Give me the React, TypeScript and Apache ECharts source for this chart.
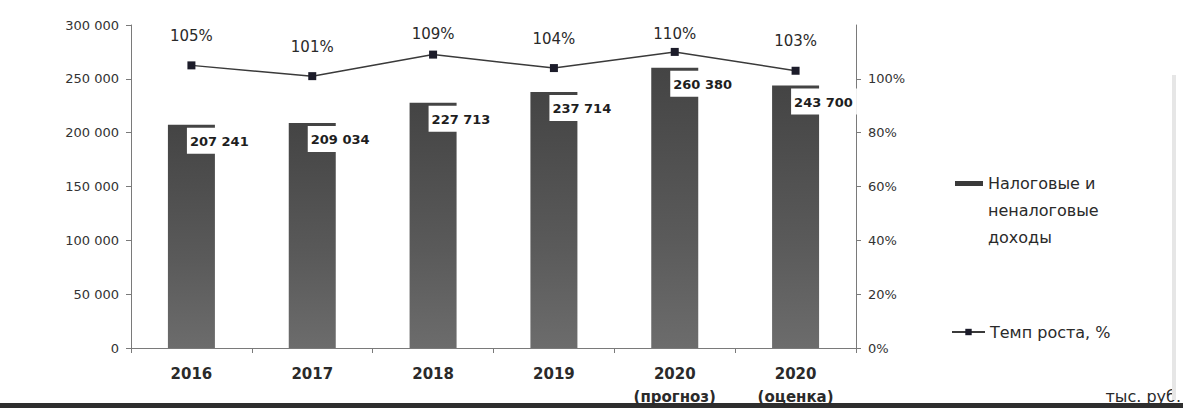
import React, { useEffect, useRef } from "react";
import * as echarts from "echarts";

const categories = ["2016", "2017", "2018", "2019", "2020\n(прогноз)", "2020\n(оценка)"];
const revenues = [207241, 209034, 227713, 237714, 260380, 243700];
const growthRates = [1.05, 1.01, 1.09, 1.04, 1.1, 1.03];
const leftMax = 300000;
const leftStep = 50000;
const rightMax = 1.2;
const rightStep = 0.2;
const barName = "Налоговые и\nненалоговые\nдоходы";
const lineName = "Темп роста, %";
const unitText = "тыс. руб.";

const FONT = "DejaVu Sans";

const thousands = (v: number) =>
  v === 0 ? "0" : String(Math.round(v)).replace(/\B(?=(\d{3})+(?!\d))/g, " ");
const pct = (v: number) => Math.round(v * 100) + "%";

export default function App() {
  const ref = useRef<HTMLDivElement>(null);
  useEffect(() => {
    if (!ref.current) return;
    const chart = echarts.init(ref.current, undefined, { renderer: "svg" });
    chart.setOption({
      animation: false,
      backgroundColor: "#ffffff",
      textStyle: { fontFamily: FONT },
      grid: { left: 131, right: 327, top: 25, bottom: 59, containLabel: false },
      legend: [
        {
          data: [barName],
          orient: "vertical",
          left: 955,
          top: 170,
          padding: 0,
          itemWidth: 28,
          itemHeight: 59,
          itemGap: 5,
          icon: "path://M0,0L28,0L28,5L0,5Z M0,59L28,59",
          itemStyle: { color: "#3a3a3a", borderWidth: 0 },
          textStyle: {
            fontFamily: FONT,
            fontSize: 16,
            color: "#2a2a2a",
            lineHeight: 27,
          },
        },
        {
          data: [lineName],
          orient: "vertical",
          left: 951,
          top: 322,
          padding: 0,
          itemWidth: 33,
          itemHeight: 8,
          textStyle: { fontFamily: FONT, fontSize: 16, color: "#2a2a2a", lineHeight: 20 },
        },
      ],
      xAxis: {
        type: "category",
        data: categories,
        boundaryGap: true,
        axisLine: { show: true, lineStyle: { color: "#7a7a7a", width: 1 } },
        axisTick: { show: true, alignWithLabel: false, inside: false, length: 5, lineStyle: { color: "#7a7a7a" } },
        axisLabel: {
          margin: 14,
          fontFamily: FONT,
          fontSize: 15,
          fontWeight: "bold",
          color: "#2a2a2a",
          lineHeight: 23,
          interval: 0,
        },
        splitLine: { show: false },
      },
      yAxis: [
        {
          type: "value",
          min: 0,
          max: leftMax,
          interval: leftStep,
          axisLine: { show: true, lineStyle: { color: "#7a7a7a", width: 1 } },
          axisTick: { show: true, length: 5, lineStyle: { color: "#7a7a7a" } },
          axisLabel: {
            margin: 12,
            fontFamily: FONT,
            fontSize: 13,
            color: "#333333",
            formatter: (v: number) => thousands(v),
          },
          splitLine: { show: false },
        },
        {
          type: "value",
          min: 0,
          max: rightMax,
          interval: rightStep,
          position: "right",
          axisLine: { show: true, lineStyle: { color: "#7a7a7a", width: 1 } },
          axisTick: { show: true, length: 5, lineStyle: { color: "#7a7a7a" } },
          axisLabel: {
            margin: 12,
            fontFamily: FONT,
            fontSize: 13,
            color: "#333333",
            showMaxLabel: false,
            formatter: (v: number) => pct(v),
          },
          splitLine: { show: false },
        },
      ],
      series: [
        {
          name: barName,
          type: "bar",
          yAxisIndex: 0,
          data: revenues,
          barWidth: 47,
          itemStyle: {
            color: new echarts.graphic.LinearGradient(0, 0, 0, 1, [
              { offset: 0, color: "#444444" },
              { offset: 0.6, color: "#5a5a5a" },
              { offset: 1, color: "#6c6c6c" },
            ]),
          },
          label: {
            show: true,
            position: [19, 3],
            align: "left",
            verticalAlign: "top",
            fontFamily: FONT,
            fontSize: 13,
            fontWeight: "bold",
            color: "#1e1e1e",
            backgroundColor: "#ffffff",
            padding: [7, 4, 6, 3],
            formatter: (p: any) => thousands(p.value),
          },
          z: 2,
        },
        {
          name: lineName,
          type: "line",
          yAxisIndex: 1,
          data: growthRates,
          symbol: "rect",
          symbolSize: 8,
          lineStyle: { color: "#3a3a3a", width: 1.5 },
          itemStyle: { color: "#1c1c2a" },
          label: {
            show: true,
            position: "top",
            distance: 18,
            fontFamily: FONT,
            fontSize: 15,
            color: "#2a2a2a",
            formatter: (p: any) => pct(p.value),
          },
          labelLayout: (p: any) => ({
            x: p.labelRect.x + p.labelRect.width / 2,
            y: Math.max(p.labelRect.y + p.labelRect.height, 41),
            align: "center",
            verticalAlign: "bottom",
          }),
          z: 3,
        },
      ],
      graphic: [
        {
          type: "text",
          right: 2,
          top: 388,
          style: { text: unitText, fontFamily: FONT, fontSize: 16, fill: "#2a2a2a" },
        },
        {
          type: "rect",
          left: 1172,
          top: 75,
          shape: { width: 4, height: 325 },
          style: { fill: "#e6e6e6" },
        },
        {
          type: "rect",
          left: 0,
          top: 403,
          shape: { width: 1183, height: 5 },
          style: { fill: "#2e2e2e" },
        },
      ],
    });
    return () => chart.dispose();
  }, []);
  return (
    <div
      ref={ref}
      style={{ position: "fixed", left: 0, top: 0, width: 1183, height: 408, background: "#fff" }}
    />
  );
}
